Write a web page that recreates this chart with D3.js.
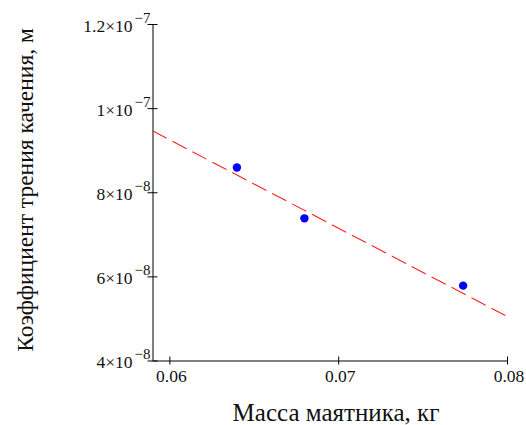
<!DOCTYPE html>
<html>
<head>
<meta charset="utf-8">
<script src="https://cdn.jsdelivr.net/npm/d3@7"></script>
<style>
  body { margin: 0; background: #fff; }
  svg { display: block; }
  text { font-family: "Liberation Serif", "Times New Roman", serif; fill: #111; }
</style>
</head>
<body>
<div id="chart"></div>
<script>
// measured points (mass, kg -> rolling friction coefficient, m)
var masses = [0.064, 0.068, 0.0774];
var coeffs = [8.59e-8, 7.38e-8, 5.78e-8];

// fitted line end points
var fitX = [0.059, 0.0799];
var fitY = [9.46e-8, 5.07e-8];

var xTicks = [0.06, 0.07, 0.08];
var xTickLabels = ["0.06", "0.07", "0.08"];
var yTicks = [4e-8, 6e-8, 8e-8, 1e-7, 1.2e-7];
var yTickMant = ["4\u00d710", "6\u00d710", "8\u00d710", "1\u00d710", "1.2\u00d710"];
var yTickExp = ["\u22128", "\u22128", "\u22128", "\u22127", "\u22127"];

function main()
{
    var svgWidth = 526;
    var svgHeight = 425;

    var svg = d3.select("#chart").append("svg")
        .attr("width", svgWidth)
        .attr("height", svgHeight);

    var xScale = d3.scaleLinear().domain([0.059, 0.08]).range([152.5, 507]);
    var yScale = d3.scaleLinear().domain([4e-8, 1.2e-7]).range([360.5, 24]);

    // x axis
    var xAxis = svg.append("g")
        .attr("transform", "translate(0," + yScale(4e-8) + ")")
        .call(d3.axisBottom(xScale).tickValues(xTicks).tickSize(4).tickSizeOuter(0).tickFormat(""));
    xAxis.select(".domain").attr("stroke", "#000");
    xAxis.selectAll(".tick line").attr("y1", -4).attr("stroke", "#000");

    svg.selectAll(".xlab")
        .data(xTicks)
        .enter()
        .append("text")
        .attr("class", "xlab")
        .attr("x", function(d) { return xScale(d) + 2; })
        .attr("y", 382)
        .attr("text-anchor", "middle")
        .attr("font-size", "17.5px")
        .text(function(d, i) { return xTickLabels[i]; });

    // y axis
    var yAxis = svg.append("g")
        .attr("transform", "translate(" + xScale(0.059) + ",0)")
        .call(d3.axisLeft(yScale).tickValues(yTicks).tickSize(5).tickSizeOuter(0).tickFormat(""));
    yAxis.select(".domain").attr("stroke", "#000");
    yAxis.selectAll(".tick line").attr("x1", 5).attr("stroke", "#000");

    var ylab = svg.selectAll(".ylab")
        .data(yTicks)
        .enter()
        .append("text")
        .attr("class", "ylab")
        .attr("x", 150.5)
        .attr("y", function(d) { return yScale(d) + 7.5; })
        .attr("text-anchor", "end")
        .attr("font-size", "17.5px");
    ylab.append("tspan")
        .text(function(d, i) { return yTickMant[i]; });
    ylab.append("tspan")
        .attr("dy", -9)
        .attr("dx", 2)
        .attr("font-size", "15px")
        .text(function(d, i) { return yTickExp[i]; });

    // fitted dashed line
    var line = d3.line()
        .x(function(d) { return xScale(d[0]); })
        .y(function(d) { return yScale(d[1]); });
    svg.append("path")
        .datum(fitX.map(function(x, i) { return [x, fitY[i]]; }))
        .attr("d", line)
        .attr("fill", "none")
        .attr("stroke", "#ff2020")
        .attr("stroke-width", 1.1)
        .attr("stroke-dasharray", "16,6.5");

    // points
    svg.selectAll(".pt")
        .data(masses)
        .enter()
        .append("circle")
        .attr("class", "pt")
        .attr("cx", function(d) { return xScale(d); })
        .attr("cy", function(d, i) { return yScale(coeffs[i]); })
        .attr("r", 4.2)
        .attr("fill", "#0000ff");

    // axis titles
    svg.append("text")
        .attr("x", 336)
        .attr("y", 421)
        .attr("text-anchor", "middle")
        .attr("font-size", "25px")
        .text("Масса маятника, кг");

    svg.append("text")
        .attr("transform", "translate(33,190) rotate(-90)")
        .attr("text-anchor", "middle")
        .attr("font-size", "23.5px")
        .text("Коэффициент трения качения, м");
}
main();
</script>
</body>
</html>
